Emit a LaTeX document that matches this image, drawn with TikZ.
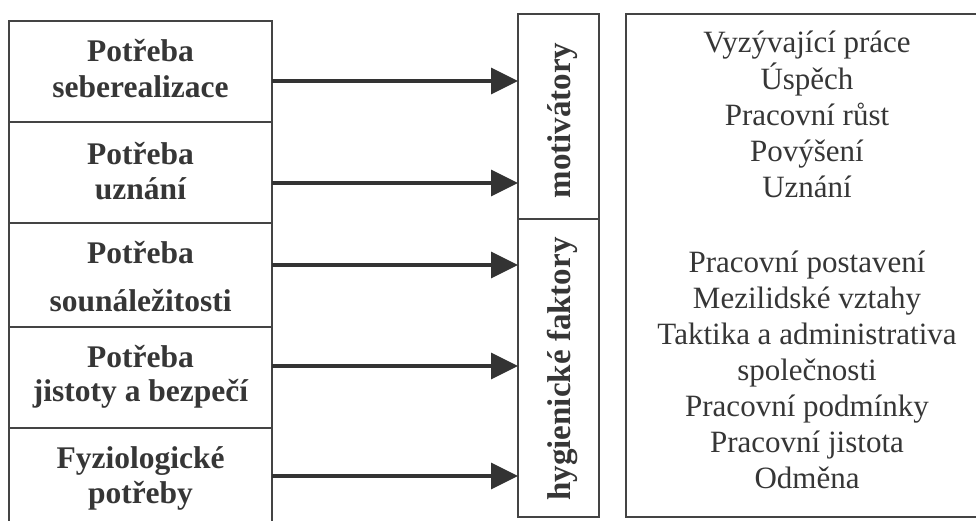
\documentclass[tikz,border=0pt]{standalone}
\usepackage{fontspec}
\setmainfont{Liberation Serif}
\usetikzlibrary{arrows.meta}
\definecolor{linecol}{HTML}{444444}
\definecolor{txtcol}{HTML}{363636}
\definecolor{arrcol}{HTML}{333333}
\tikzset{
  rowbox/.style={draw=linecol, line width=2pt, minimum width=263pt, inner sep=0pt, outer sep=0pt},
  midbox/.style={draw=linecol, line width=2pt, minimum width=81pt, inner sep=0pt, outer sep=0pt},
  lefttxt/.style={anchor=base, inner sep=0pt, text=txtcol, font=\fontsize{31.5}{36}\selectfont\bfseries},
  midtxt/.style={anchor=base, rotate=90, inner sep=0pt, text=txtcol, font=\fontsize{33}{38}\selectfont\bfseries},
  righttxt/.style={anchor=base, inner sep=0pt, text=txtcol, font=\fontsize{31}{36}\selectfont},
  arr/.style={draw=arrcol, line width=3.4pt, -{Triangle[length=27pt,width=26pt]}, arrcol}
}
\begin{document}
\begin{tikzpicture}[x=1pt,y=-1pt]
\useasboundingbox (0,0) rectangle (976,521);
\clip (0,0) rectangle (976,521);
\fill[white] (0,0) rectangle (976,521);
% left column rows
\node[rowbox, minimum height=101pt] (r1) at (140.5,71.5) {};
\node[rowbox, minimum height=101pt] (r2) at (140.5,172.5) {};
\node[rowbox, minimum height=104pt] (r3) at (140.5,275) {};
\node[rowbox, minimum height=101pt] (r4) at (140.5,377.5) {};
\node[rowbox, minimum height=101pt] (r5) at (140.5,478.5) {};
\node[lefttxt] (t1a) at (140.5,62) {Potřeba};
\node[lefttxt] (t1b) at (140.5,98) {seberealizace};
\node[lefttxt] (t2a) at (140.5,165) {Potřeba};
\node[lefttxt] (t2b) at (140.5,200) {uznání};
\node[lefttxt] (t3a) at (140.5,263) {Potřeba};
\node[lefttxt] (t3b) at (140.5,311) {sounáležitosti};
\node[lefttxt] (t4a) at (140.5,367) {Potřeba};
\node[lefttxt] (t4b) at (140.5,401) {jistoty a bezpečí};
\node[lefttxt] (t5a) at (140.5,468) {Fyziologické};
\node[lefttxt] (t5b) at (140.5,503) {potřeby};
% middle column
\node[midbox, minimum height=205pt] (m1) at (558.5,116.5) {};
\node[midbox, minimum height=298pt] (m2) at (558.5,368) {};
\node[midtxt] (mt1) at (570,120.5) {motivátory};
\node[midtxt] (mt2) at (570,369) {hygienické faktory};
% right box (its right side lies outside the picture)
\node[draw=linecol, line width=2pt, minimum width=600pt, minimum height=503pt, inner sep=0pt] (rb) at (926,265.5) {};
\foreach \t [count=\i] in {Vyzývající práce, Úspěch, Pracovní růst, Povýšení, Uznání}
  \node[righttxt] (a\i) at (807,{53+36.1*(\i-1)}) {\t};
\foreach \t [count=\i] in {Pracovní postavení, Mezilidské vztahy, Taktika a administrativa, společnosti, Pracovní podmínky, Pracovní jistota, Odměna}
  \node[righttxt] (b\i) at (807,{272.5+36*(\i-1)}) {\t};
% arrows
\coordinate (y1) at (0,81);
\coordinate (y2) at (0,183);
\coordinate (y3) at (0,265);
\coordinate (y4) at (0,366);
\coordinate (y5) at (0,476);
\draw[arr] (r1.east |- y1) -- (m1.west |- y1);
\draw[arr] (r2.east |- y2) -- (m1.west |- y2);
\draw[arr] (r3.east |- y3) -- (m2.west |- y3);
\draw[arr] (r4.east |- y4) -- (m2.west |- y4);
\draw[arr] (r5.east |- y5) -- (m2.west |- y5);
\end{tikzpicture}
\end{document}
